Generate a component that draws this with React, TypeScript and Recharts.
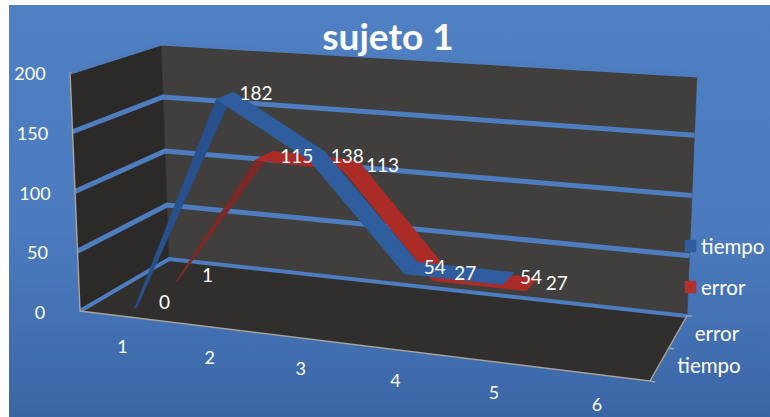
import React from 'react';
import { ComposedChart, Line, Scatter, XAxis, YAxis } from 'recharts';

const WIDTH = 770;
const HEIGHT = 417;

const title = 'sujeto 1';
const categories = ['1', '2', '3', '4', '5', '6'];
const valueTicks = [0, 50, 100, 150, 200];
const tiempo = [0, 182, 138, 54, 54];
const error = [1, 115, 113, 27, 27];
const depthNames = ['tiempo', 'error'];

const FONT = 'Lato, "Open Sans", sans-serif';
const V_MAX = 200;

// Projection box of the 3D scene: [front/back][bottom/top] corners
const FL_B = [80, 311], FL_T = [70, 72], FR_B = [650, 381], FR_T = [662, 116];
const BL_B = [169, 259], BL_T = [161, 43], BR_B = [687, 316], BR_T = [697, 75];
const PERSPECTIVE = 1.13;

const mix = (a: number[], b: number[], t: number) => [a[0] + (b[0] - a[0]) * t, a[1] + (b[1] - a[1]) * t];
const warp = (t: number) => t / (t + PERSPECTIVE * (1 - t));
const project = (t: number, value: number, z: number) => {
  const u = warp(t);
  const v = value / V_MAX;
  const front = mix(mix(FL_B, FR_B, u), mix(FL_T, FR_T, u), v);
  const back = mix(mix(BL_B, BR_B, u), mix(BL_T, BR_T, u), v);
  const p = mix(front, back, z);
  return { x: p[0], y: p[1] };
};
const catT = (i: number) => (i + 0.5) / categories.length;
const shift = (p: { x: number; y: number }, dx: number, dy: number, text: string | number) => ({
  x: p.x + dx,
  y: p.y + dy,
  text: String(text),
});

const polygon = (pts: { x: number; y: number }[]) => [...pts, pts[0]];
const wall = (a: number[], b: number[], c: number[], d: number[]) =>
  polygon([a, b, c, d].map((p) => ({ x: p[0], y: p[1] })));

const ribbon = (values: number[], z0: number, z1: number) =>
  values.slice(0, -1).map((v, i) =>
    polygon([
      project(catT(i), v, z0),
      project(catT(i + 1), values[i + 1], z0),
      project(catT(i + 1), values[i + 1], z1),
      project(catT(i), v, i === 0 ? z0 + 0.03 : z1),
    ]),
  );

const ERR_Z = [0.62, 0.84];
const TIE_Z = [0.14, 0.36];
const tiempoRibbon = ribbon(tiempo, TIE_Z[0], TIE_Z[1]);
const errorRibbon = ribbon(error, ERR_Z[0], ERR_Z[1]);
const tiempoColors = ['#27508c', '#2f5d9e', '#2f5d9e', '#2f5d9e'];
const errorColors = ['#7a2a28', '#ab2b27', '#ab2b27', '#ab2b27'];

const gridLines = valueTicks.map((v) => [
  { x: mix(FL_B, FL_T, v / V_MAX)[0], y: mix(FL_B, FL_T, v / V_MAX)[1] },
  { x: mix(BL_B, BL_T, v / V_MAX)[0], y: mix(BL_B, BL_T, v / V_MAX)[1] },
  { x: mix(BR_B, BR_T, v / V_MAX)[0], y: mix(BR_B, BR_T, v / V_MAX)[1] },
]);

const valueLabels = valueTicks.map((v) => {
  const p = mix(FL_B, FL_T, v / V_MAX);
  return { x: p[0] - 40, y: p[1] + 1, text: String(v) };
});
const catLabels = categories.map((c, i) => shift(project(catT(i), 0, 0), 0, 30, c));
const depthLabels = [
  { x: 709, y: 365, text: depthNames[0] },
  { x: 717, y: 333, text: depthNames[1] },
];
const tiempoLabels = tiempo.map((v, i) => shift(project(catT(i), v, TIE_Z[1]), 6, i === 1 ? 1 : 4, v));
const errorLabels = error.map((v, i) => shift(project(catT(i), v, ERR_Z[1]), 8, 4, v));
const titleRows = [{ x: 388, y: 35, text: title }];
const legendRows = [
  { x: 701, y: 246, text: depthNames[0] },
  { x: 701, y: 287, text: depthNames[1] },
];

const labelShape = (anchor: string, size: number, weight = 400) => (p: any) => (
  <text
    x={p.cx}
    y={p.cy}
    textAnchor={anchor}
    dominantBaseline="central"
    fontFamily={FONT}
    fontSize={size}
    fontWeight={weight}
    fill="#ffffff"
  >
    {p.payload.text}
  </text>
);

const Poly = ({ pts, fill, stroke = 'none', sw = 0, name }: any) => (
  <Line
    data={pts}
    dataKey="y"
    name={name}
    type="linear"
    dot={false}
    activeDot={false}
    stroke={stroke === 'none' ? fill : stroke}
    strokeWidth={sw}
    style={{ fill }}
    isAnimationActive={false}
    legendType="none"
  />
);

const edge = (pts: number[][]) => pts.map((p) => ({ x: p[0], y: p[1] }));

export default function App() {
  return (
    <div style={{ position: 'absolute', left: 0, top: 0, width: WIDTH, height: HEIGHT, background: '#fff', overflow: 'hidden' }}>
      <div
        style={{
          position: 'absolute',
          left: 9,
          top: 5,
          right: 0,
          bottom: 0,
          background: 'linear-gradient(180deg,#4f80c4 0%,#4b7bbe 55%,#3b66a6 100%)',
        }}
      />
      <ComposedChart
        width={WIDTH}
        height={HEIGHT}
        margin={{ top: 0, right: 0, bottom: 0, left: 0 }}
        style={{ position: 'absolute', left: 0, top: 0 }}
      >
        <XAxis type="number" dataKey="x" domain={[0, WIDTH]} hide allowDataOverflow />
        <YAxis type="number" dataKey="y" domain={[0, HEIGHT]} reversed hide allowDataOverflow />
        {Poly({ pts: wall(BL_B, BL_T, BR_T, BR_B), fill: '#403f3e', sw: 0.5 })}
        {Poly({ pts: wall(FL_B, FL_T, BL_T, BL_B), fill: '#2b2a29', sw: 0.5 })}
        {Poly({ pts: wall(FL_B, BL_B, BR_B, FR_B), fill: '#302f2e', sw: 0.5 })}
        {gridLines.slice(0).map((g, i) => (
          <Line
            key={`grid-${i}`}
            data={g}
            dataKey="y"
            type="linear"
            dot={false}
            activeDot={false}
            stroke="#4d7dbe"
            strokeWidth={i === 0 ? 4 : 5}
            strokeLinejoin="miter"
            isAnimationActive={false}
          />
        ))}
        <Line data={edge([FL_T, FL_B, FR_B, [655, 382]])} dataKey="y" type="linear" dot={false} activeDot={false} stroke="#a5a39d" strokeWidth={1.5} isAnimationActive={false} />
        <Line data={edge([FR_B, BR_B, [692, 316]])} dataKey="y" type="linear" dot={false} activeDot={false} stroke="#a5a39d" strokeWidth={1.5} isAnimationActive={false} />
        <Line data={edge([[668, 348], [674, 349]])} dataKey="y" type="linear" dot={false} activeDot={false} stroke="#a5a39d" strokeWidth={1.5} isAnimationActive={false} />
        {errorRibbon.map((pts, i) => Poly({ pts, fill: errorColors[i], sw: 0.5, name: 'error' }))}
        {tiempoRibbon.map((pts, i) => Poly({ pts, fill: tiempoColors[i], sw: 0.5, name: 'tiempo' }))}
        {Poly({ pts: wall([685, 240], [696, 240], [696, 252], [685, 252]), fill: '#2f5d9e', sw: 0.5 })}
        {Poly({ pts: wall([685, 281], [696, 281], [696, 293], [685, 293]), fill: '#b5302b', sw: 0.5 })}
        <Scatter data={titleRows} isAnimationActive={false} shape={labelShape('middle', 37, 700)} />
        <Scatter data={valueLabels} isAnimationActive={false} shape={labelShape('middle', 18)} />
        <Scatter data={catLabels} isAnimationActive={false} shape={labelShape('middle', 18)} />
        <Scatter data={depthLabels} isAnimationActive={false} shape={labelShape('middle', 20.5)} />
        <Scatter data={legendRows} isAnimationActive={false} shape={labelShape('start', 20.5)} />
        <Scatter data={errorLabels} isAnimationActive={false} shape={labelShape('start', 19)} />
        <Scatter data={tiempoLabels} isAnimationActive={false} shape={labelShape('start', 19)} />
      </ComposedChart>
    </div>
  );
}
